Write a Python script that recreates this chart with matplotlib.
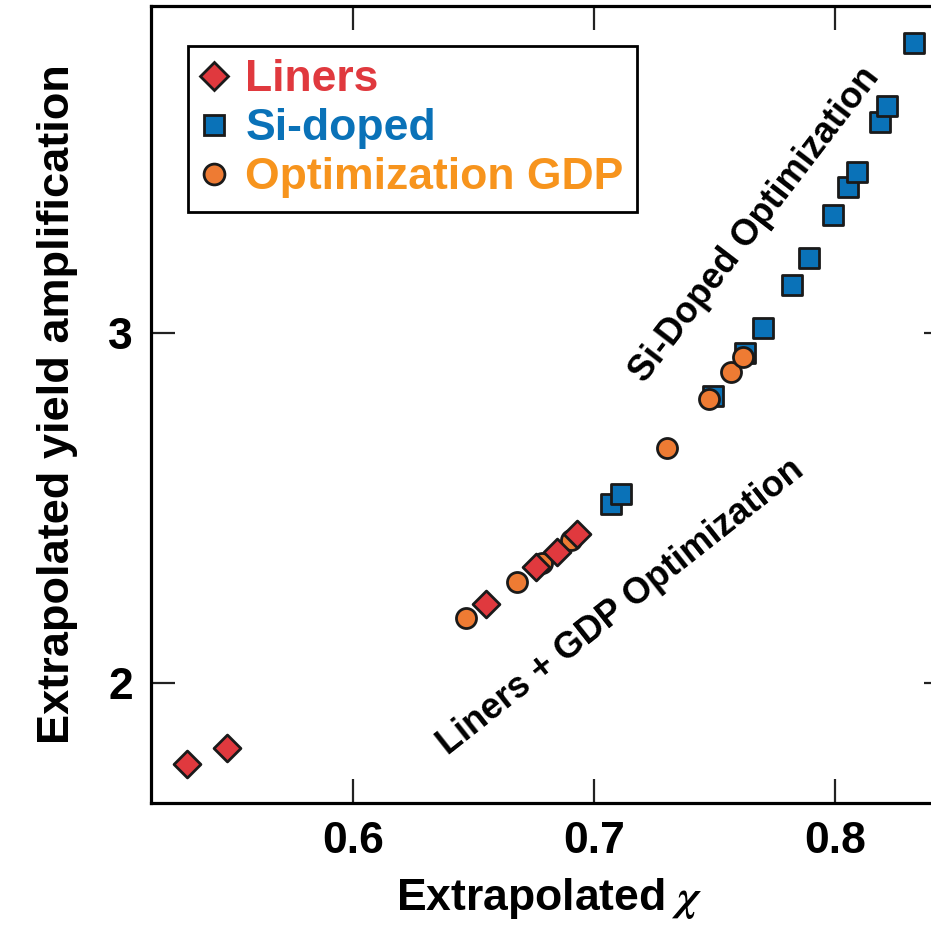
import matplotlib.pyplot as plt
from matplotlib.lines import Line2D

plt.rcParams['font.family'] = ['Liberation Sans', 'DejaVu Sans']
plt.rcParams['font.weight'] = 'bold'
plt.rcParams['mathtext.fontset'] = 'stix'

# extrapolated chi / yield amplification for each campaign
liners_x = [0.5312, 0.5478, 0.6553, 0.6761, 0.6848, 0.6931]
liners_y = [1.769, 1.814, 2.226, 2.331, 2.374, 2.426]

sidoped_x = [0.7070, 0.7112, 0.7494, 0.7628, 0.7704, 0.7822, 0.7893,
             0.7994, 0.8056, 0.8091, 0.8188, 0.8218, 0.8329]
sidoped_y = [2.511, 2.539, 2.820, 2.942, 3.013, 3.137, 3.213,
             3.337, 3.418, 3.461, 3.604, 3.647, 3.829]

gdp_x = [0.6470, 0.6680, 0.6784, 0.6905, 0.7302, 0.7480, 0.7570, 0.7621]
gdp_y = [2.186, 2.289, 2.342, 2.409, 2.672, 2.811, 2.889, 2.932]

red = '#E0393E'
blue = '#0A72B8'
orange_fill = '#EE7B33'
orange_text = '#F7941D'
edge = '#1a1a1a'

fig = plt.figure(figsize=(9.31, 9.32), dpi=100)
ax = fig.add_axes([151 / 931, (932 - 803) / 932, (948 - 151) / 931, (803 - 6) / 932])

ax.scatter(gdp_x, gdp_y, s=20**2 * 0.52, marker='o', facecolor=orange_fill,
           edgecolor=edge, linewidth=2, zorder=3)
ax.scatter(liners_x, liners_y, s=19**2 * 0.52, marker='D', facecolor=red,
           edgecolor=edge, linewidth=2, zorder=4)
ax.scatter(sidoped_x, sidoped_y, s=19**2 * 0.52, marker='s', facecolor=blue,
           edgecolor=edge, linewidth=2, zorder=2)

ax.set_xlim(0.5163, 0.847)
ax.set_ylim(1.657, 3.934)
ax.set_xticks([0.6, 0.7, 0.8])
ax.set_yticks([2, 3])
ax.set_xticklabels(['0.6', '0.7', '0.8'])
ax.set_yticklabels(['2', '3'])
ax.tick_params(direction='in', length=17, width=1.6, top=True, right=True,
               labelsize=32, pad=13, color='#222222')
for sp in ax.spines.values():
    sp.set_linewidth(2.3)

ax.set_xlabel(r'Extrapolated $\chi$', fontsize=32, fontweight='bold', labelpad=10)
ax.set_ylabel('Extrapolated yield amplification', fontsize=32.5,
              fontweight='bold', labelpad=22)

ax.text(0.767, 3.309, 'Si-Doped Optimization', fontsize=26, fontweight='bold',
        rotation=52.5, ha='center', va='center', rotation_mode='anchor')
ax.text(0.7113, 2.217, 'Liners + GDP Optimization', fontsize=26,
        fontweight='bold', rotation=38.3, ha='center', va='center',
        rotation_mode='anchor')

handles = [
    Line2D([], [], ls='none', marker='D', ms=14, mfc=red, mec=edge, mew=2),
    Line2D([], [], ls='none', marker='s', ms=14, mfc=blue, mec=edge, mew=2),
    Line2D([], [], ls='none', marker='o', ms=15, mfc=orange_fill, mec=edge, mew=2),
]
leg = ax.legend(handles, ['Liners', 'Si-doped', 'Optimization GDP'],
                loc='upper left', bbox_to_anchor=(0.046, 0.95), fontsize=32,
                frameon=True, fancybox=False, edgecolor='black', framealpha=1,
                handlelength=0.6, handletextpad=0.4, borderpad=0.3,
                labelspacing=0.18, borderaxespad=0)
leg.get_frame().set_linewidth(2)
for t, c in zip(leg.get_texts(), [red, blue, orange_text]):
    t.set_color(c)
    t.set_fontweight('bold')

fig.savefig('out.png', dpi=100)
